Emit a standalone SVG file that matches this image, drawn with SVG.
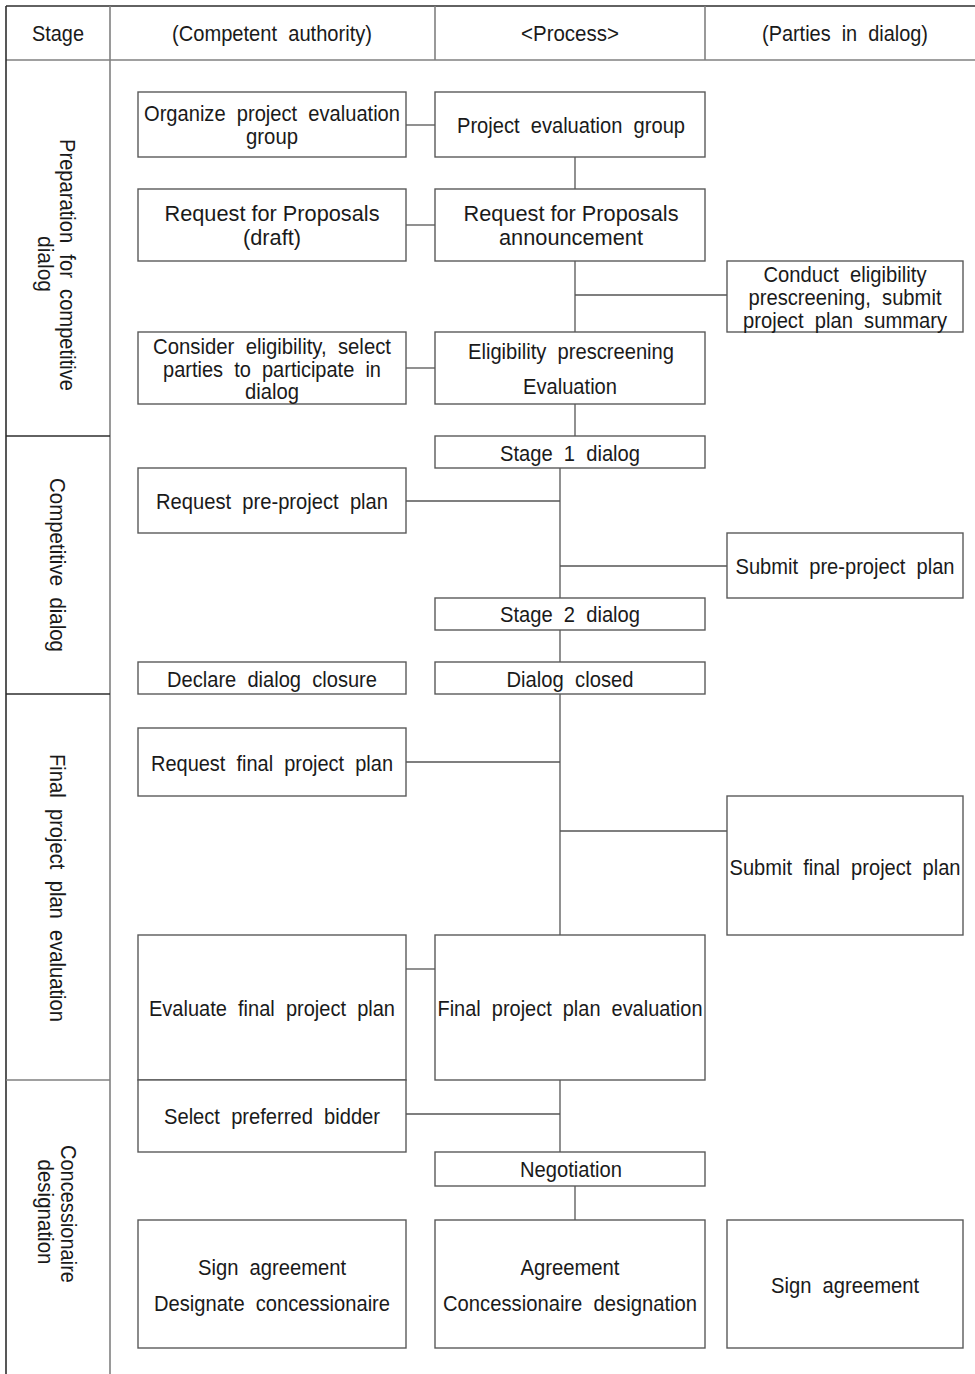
<svg xmlns="http://www.w3.org/2000/svg" width="975" height="1374" viewBox="0 0 975 1374">
  <style>
    .grid { stroke: #808080; stroke-width: 1.6; fill: none; }
    .grid-dark { stroke: #2e2e2e; stroke-width: 1.6; fill: none; }
    .box { fill: #ffffff; stroke: #5a5a5a; stroke-width: 1.4; }
    .link { stroke: #555555; stroke-width: 1.3; fill: none; }
    text { font-family: "Liberation Sans", Arial, sans-serif; font-size: 22px; fill: #1a1a1a; text-anchor: middle; white-space: pre; }
  </style>
  <rect x="0" y="0" width="975" height="1374" fill="#ffffff"/>

  <!-- table frame -->
  <g id="table">
    <line class="grid-dark" x1="6" y1="6" x2="975" y2="6"/>
    <line class="grid" x1="6" y1="60" x2="975" y2="60"/>
    <line class="grid-dark" x1="6" y1="6" x2="6" y2="1374"/>
    <line class="grid" x1="110" y1="6" x2="110" y2="1374"/>
    <line class="grid" x1="435" y1="6" x2="435" y2="60"/>
    <line class="grid" x1="705" y1="6" x2="705" y2="60"/>
    <line class="grid-dark" x1="6" y1="436" x2="110" y2="436"/>
    <line class="grid-dark" x1="6" y1="694" x2="110" y2="694"/>
    <line class="grid" x1="6" y1="1080" x2="110" y2="1080"/>
    <text x="58" y="41" textLength="52" lengthAdjust="spacingAndGlyphs">Stage</text>
    <text x="272" y="41" textLength="200" lengthAdjust="spacingAndGlyphs">(Competent  authority)</text>
    <text x="570" y="41" textLength="98" lengthAdjust="spacingAndGlyphs">&lt;Process&gt;</text>
    <text x="845" y="41" textLength="166" lengthAdjust="spacingAndGlyphs">(Parties  in  dialog)</text>
  </g>

  <!-- stage labels -->
  <g id="stage-preparation">
    <g transform="translate(67,265) rotate(90)"><text x="0" y="7.5" textLength="252" lengthAdjust="spacingAndGlyphs">Preparation  for  competitive</text></g>
    <g transform="translate(45,264) rotate(90)"><text x="0" y="7.5" textLength="56" lengthAdjust="spacingAndGlyphs">dialog</text></g>
  </g>
  <g id="stage-dialog">
    <g transform="translate(57,565) rotate(90)"><text x="0" y="7.5" textLength="174" lengthAdjust="spacingAndGlyphs">Competitive  dialog</text></g>
  </g>
  <g id="stage-final">
    <g transform="translate(57,888) rotate(90)"><text x="0" y="7.5" textLength="268" lengthAdjust="spacingAndGlyphs">Final  project  plan  evaluation</text></g>
  </g>
  <g id="stage-designation">
    <g transform="translate(68,1214) rotate(90)"><text x="0" y="7.5" textLength="138" lengthAdjust="spacingAndGlyphs">Concessionaire</text></g>
    <g transform="translate(45,1212) rotate(90)"><text x="0" y="7.5" textLength="105" lengthAdjust="spacingAndGlyphs">designation</text></g>
  </g>

  <!-- connectors -->
  <g id="connectors">
    <line class="link" x1="406" y1="125" x2="435" y2="125"/>
    <line class="link" x1="575" y1="157" x2="575" y2="189"/>
    <line class="link" x1="406" y1="225" x2="435" y2="225"/>
    <line class="link" x1="575" y1="261" x2="575" y2="332"/>
    <line class="link" x1="575" y1="295" x2="727" y2="295"/>
    <line class="link" x1="406" y1="368" x2="435" y2="368"/>
    <line class="link" x1="575" y1="404" x2="575" y2="436"/>
    <line class="link" x1="560" y1="468" x2="560" y2="598"/>
    <line class="link" x1="406" y1="501" x2="560" y2="501"/>
    <line class="link" x1="560" y1="566" x2="727" y2="566"/>
    <line class="link" x1="560" y1="630" x2="560" y2="662"/>
    <line class="link" x1="560" y1="694" x2="560" y2="935"/>
    <line class="link" x1="406" y1="762" x2="560" y2="762"/>
    <line class="link" x1="560" y1="831" x2="727" y2="831"/>
    <line class="link" x1="406" y1="969" x2="435" y2="969"/>
    <line class="link" x1="560" y1="1080" x2="560" y2="1152"/>
    <line class="link" x1="406" y1="1114" x2="560" y2="1114"/>
    <line class="link" x1="575" y1="1186" x2="575" y2="1220"/>
  </g>

  <!-- nodes -->
  <g id="organize-group">
    <rect class="box" x="138" y="92" width="268" height="65"/>
    <text x="272" y="120.5" textLength="256" lengthAdjust="spacingAndGlyphs">Organize  project  evaluation</text>
    <text x="272" y="143.5" textLength="52" lengthAdjust="spacingAndGlyphs">group</text>
  </g>
  <g id="evaluation-group">
    <rect class="box" x="435" y="92" width="270" height="65"/>
    <text x="571" y="132.5" textLength="228" lengthAdjust="spacingAndGlyphs">Project  evaluation  group</text>
  </g>
  <g id="rfp-draft">
    <rect class="box" x="138" y="189" width="268" height="72"/>
    <text x="272" y="220.5" textLength="215" lengthAdjust="spacingAndGlyphs">Request for Proposals</text>
    <text x="272" y="244.5" textLength="58" lengthAdjust="spacingAndGlyphs">(draft)</text>
  </g>
  <g id="rfp-announcement">
    <rect class="box" x="435" y="189" width="270" height="72"/>
    <text x="571" y="220.5" textLength="215" lengthAdjust="spacingAndGlyphs">Request for Proposals</text>
    <text x="571" y="244.5" textLength="144" lengthAdjust="spacingAndGlyphs">announcement</text>
  </g>
  <g id="conduct-prescreening">
    <rect class="box" x="727" y="261" width="236" height="71"/>
    <text x="845" y="281.5" textLength="163" lengthAdjust="spacingAndGlyphs">Conduct  eligibility</text>
    <text x="845" y="304.5" textLength="193" lengthAdjust="spacingAndGlyphs">prescreening,  submit</text>
    <text x="845" y="327.5" textLength="204" lengthAdjust="spacingAndGlyphs">project  plan  summary</text>
  </g>
  <g id="consider-eligibility">
    <rect class="box" x="138" y="332" width="268" height="72"/>
    <text x="272" y="353.5" textLength="238" lengthAdjust="spacingAndGlyphs">Consider  eligibility,  select</text>
    <text x="272" y="376.5" textLength="218" lengthAdjust="spacingAndGlyphs">parties  to  participate  in</text>
    <text x="272" y="398.5" textLength="54" lengthAdjust="spacingAndGlyphs">dialog</text>
  </g>
  <g id="prescreening-evaluation">
    <rect class="box" x="435" y="332" width="270" height="72"/>
    <text x="571" y="358.5" textLength="206" lengthAdjust="spacingAndGlyphs">Eligibility  prescreening</text>
    <text x="570" y="393.5" textLength="94" lengthAdjust="spacingAndGlyphs">Evaluation</text>
  </g>
  <g id="stage-1-dialog">
    <rect class="box" x="435" y="436" width="270" height="32"/>
    <text x="570" y="460.5" textLength="140" lengthAdjust="spacingAndGlyphs">Stage  1  dialog</text>
  </g>
  <g id="request-pre-plan">
    <rect class="box" x="138" y="468" width="268" height="65"/>
    <text x="272" y="508.5" textLength="232" lengthAdjust="spacingAndGlyphs">Request  pre-project  plan</text>
  </g>
  <g id="submit-pre-plan">
    <rect class="box" x="727" y="533" width="236" height="65"/>
    <text x="845" y="573.5" textLength="219" lengthAdjust="spacingAndGlyphs">Submit  pre-project  plan</text>
  </g>
  <g id="stage-2-dialog">
    <rect class="box" x="435" y="598" width="270" height="32"/>
    <text x="570" y="621.5" textLength="140" lengthAdjust="spacingAndGlyphs">Stage  2  dialog</text>
  </g>
  <g id="declare-closure">
    <rect class="box" x="138" y="662" width="268" height="32"/>
    <text x="272" y="686.5" textLength="210" lengthAdjust="spacingAndGlyphs">Declare  dialog  closure</text>
  </g>
  <g id="dialog-closed">
    <rect class="box" x="435" y="662" width="270" height="32"/>
    <text x="570" y="686.5" textLength="127" lengthAdjust="spacingAndGlyphs">Dialog  closed</text>
  </g>
  <g id="request-final-plan">
    <rect class="box" x="138" y="728" width="268" height="68"/>
    <text x="272" y="770.5" textLength="242" lengthAdjust="spacingAndGlyphs">Request  final  project  plan</text>
  </g>
  <g id="submit-final-plan">
    <rect class="box" x="727" y="796" width="236" height="139"/>
    <text x="845" y="874.5" textLength="231" lengthAdjust="spacingAndGlyphs">Submit  final  project  plan</text>
  </g>
  <g id="evaluate-final-plan">
    <rect class="box" x="138" y="935" width="268" height="145"/>
    <text x="272" y="1015.5" textLength="246" lengthAdjust="spacingAndGlyphs">Evaluate  final  project  plan</text>
  </g>
  <g id="final-plan-evaluation">
    <rect class="box" x="435" y="935" width="270" height="145"/>
    <text x="570" y="1015.5" textLength="265" lengthAdjust="spacingAndGlyphs">Final  project  plan  evaluation</text>
  </g>
  <g id="select-bidder">
    <rect class="box" x="138" y="1080" width="268" height="72"/>
    <text x="272" y="1123.5" textLength="216" lengthAdjust="spacingAndGlyphs">Select  preferred  bidder</text>
  </g>
  <g id="negotiation">
    <rect class="box" x="435" y="1152" width="270" height="34"/>
    <text x="571" y="1176.5" textLength="102" lengthAdjust="spacingAndGlyphs">Negotiation</text>
  </g>
  <g id="sign-designate">
    <rect class="box" x="138" y="1220" width="268" height="128"/>
    <text x="272" y="1274.5" textLength="148" lengthAdjust="spacingAndGlyphs">Sign  agreement</text>
    <text x="272" y="1310.5" textLength="236" lengthAdjust="spacingAndGlyphs">Designate  concessionaire</text>
  </g>
  <g id="agreement-designation">
    <rect class="box" x="435" y="1220" width="270" height="128"/>
    <text x="570" y="1274.5" textLength="99" lengthAdjust="spacingAndGlyphs">Agreement</text>
    <text x="570" y="1310.5" textLength="254" lengthAdjust="spacingAndGlyphs">Concessionaire  designation</text>
  </g>
  <g id="parties-sign">
    <rect class="box" x="727" y="1220" width="236" height="128"/>
    <text x="845" y="1292.5" textLength="148" lengthAdjust="spacingAndGlyphs">Sign  agreement</text>
  </g>
</svg>
